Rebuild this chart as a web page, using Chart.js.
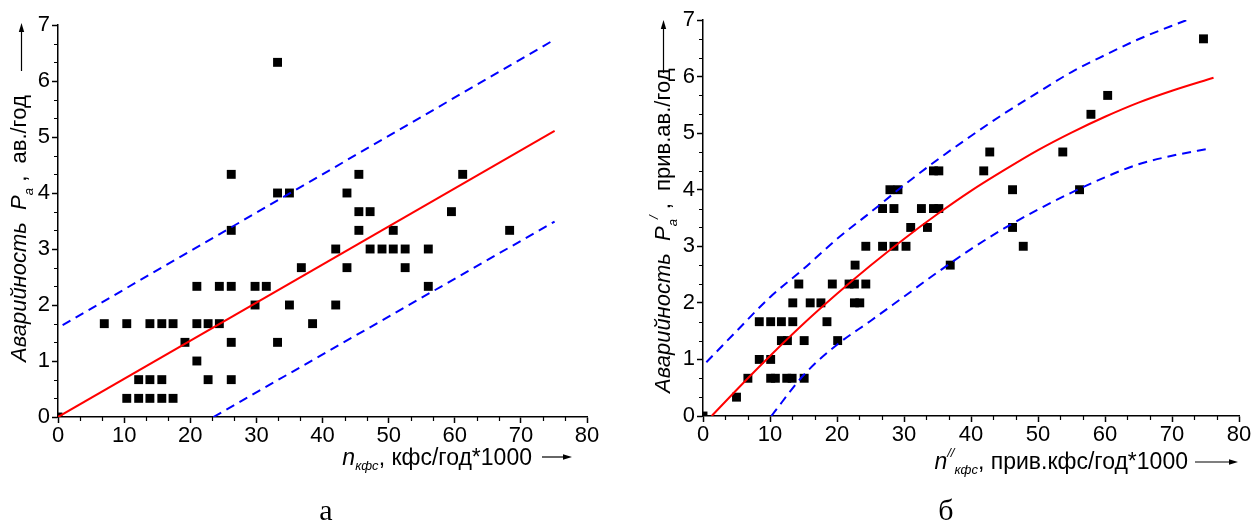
<!DOCTYPE html>
<html>
<head>
<meta charset="utf-8">
<script src="https://cdn.jsdelivr.net/npm/chart.js"></script>
<style>
body { margin:0; background:#fff; }
#pagina { position:relative; width:1252px; height:522px; overflow:hidden; font-family:"Liberation Sans", Arial, sans-serif; color:#000; }
canvas { position:absolute; top:0; }
.titulo { position:absolute; font-size:22px; line-height:22px; white-space:nowrap; }
.horiz { font-size:23px; line-height:23px; }
.vert { transform-origin:0 0; transform:rotate(-90deg); }
sub { font-size:13px; line-height:0; font-style:italic; vertical-align:-7px; }
sup { font-size:13px; line-height:0; font-style:italic; vertical-align:12px; }
.legenda { position:absolute; font-family:"Liberation Serif", "Times New Roman", serif; font-size:30px; line-height:30px; width:60px; text-align:center; }
.seta { position:absolute; }
</style>
</head>
<body>
<div id="pagina">
  <canvas id="grafico_a" width="626" height="522" style="left:0"></canvas>
  <canvas id="grafico_b" width="626" height="522" style="left:626px"></canvas>

  <div class="titulo vert" style="left:8px; top:362px"><i>Аварийность</i>&nbsp;&nbsp;<i>P</i><sub>a</sub>&nbsp;,&nbsp;&nbsp;ав./год</div>
  <svg class="seta" style="left:17px; top:23px" width="9" height="48"><line x1="4.5" y1="6" x2="4.5" y2="48" stroke="#000" stroke-width="1.2"/><polygon points="4.5,0 1.8,9 7.2,9" fill="#000"/></svg>
  <div class="titulo horiz" style="right:720px; top:446px"><i>n</i><sub style="vertical-align:-5px">кфс</sub>, кфс/год*1000</div>
  <svg class="seta" style="left:542px; top:452px" width="30" height="10"><line x1="0" y1="5" x2="24" y2="5" stroke="#000" stroke-width="1.2"/><polygon points="30,5 21,2.3 21,7.7" fill="#000"/></svg>
  <div class="legenda" style="left:296px; top:495px">а</div>

  <div class="titulo vert" style="left:652px; top:393px"><i>Аварийность</i>&nbsp;&nbsp;<i>P</i><sub>a</sub><sup>/</sup>&nbsp;,&nbsp;&nbsp;прив.ав./год</div>
  <svg class="seta" style="left:659px; top:20px" width="9" height="53"><line x1="4.5" y1="6" x2="4.5" y2="53" stroke="#000" stroke-width="1.2"/><polygon points="4.5,0 1.8,9 7.2,9" fill="#000"/></svg>
  <div class="titulo horiz" style="right:64px; top:450px"><i>n</i><sup>//</sup><sub style="vertical-align:-5px">кфс</sub>, прив.кфс/год*1000</div>
  <svg class="seta" style="left:1195px; top:457px" width="43" height="10"><line x1="0" y1="5" x2="37" y2="5" stroke="#000" stroke-width="1.2"/><polygon points="43,5 34,2.3 34,7.7" fill="#000"/></svg>
  <div class="legenda" style="left:916px; top:495px">б</div>
</div>

<script>
// grafico a
const pontos_a_x = [0,
  10.4, 12.2, 13.9, 15.7, 17.4,
  12.2, 13.9, 15.7, 22.7, 26.2,
  21.0,
  19.2, 26.2, 33.2,
  7.0, 10.4, 13.9, 15.7, 17.4, 21.0, 22.7, 24.4, 38.5,
  29.8, 35.0, 42.0,
  21.0, 24.4, 26.2, 29.8, 31.5, 56.0,
  36.8, 43.7, 52.5,
  42.0, 47.2, 49.0, 50.7, 52.5, 56.0,
  26.2, 45.5, 50.7, 68.3,
  45.5, 47.2, 59.5,
  33.2, 35.0, 43.7,
  26.2, 45.5, 61.2,
  33.2]
const pontos_a_y = [0,
  0.333, 0.333, 0.333, 0.333, 0.333,
  0.667, 0.667, 0.667, 0.667, 0.667,
  1.0,
  1.333, 1.333, 1.333,
  1.667, 1.667, 1.667, 1.667, 1.667, 1.667, 1.667, 1.667, 1.667,
  2.0, 2.0, 2.0,
  2.333, 2.333, 2.333, 2.333, 2.333, 2.333,
  2.667, 2.667, 2.667,
  3.0, 3.0, 3.0, 3.0, 3.0, 3.0,
  3.333, 3.333, 3.333, 3.333,
  3.667, 3.667, 3.667,
  4.0, 4.0, 4.0,
  4.333, 4.333, 4.333,
  6.333]

const reta_a_x = [0, 75.1]
const reta_a_y = [0, 5.11]
const sup_a_x = [0.7, 75.1]
const sup_a_y = [1.64, 6.74]
const inf_a_x = [23.5, 75.1]
const inf_a_y = [0, 3.49]

// grafico b
const pontos_b_x = [0, 5.0, 6.7,
  10.1, 10.8, 12.5, 13.3, 15.1,
  8.4, 10.1,
  11.7, 12.6, 15.1, 20.1,
  8.4, 10.1, 11.7, 13.4, 18.5,
  13.4, 16.0, 17.6, 22.6, 23.4,
  14.3, 19.3, 21.8, 22.6, 24.3,
  22.7, 36.9,
  24.3, 26.8, 28.5, 30.3, 47.8,
  31.0, 33.5, 46.2,
  26.8, 28.5, 32.6, 34.4, 35.2,
  27.9, 29.1, 46.2, 56.2,
  34.4, 35.2, 41.9,
  42.8, 53.7,
  57.9, 60.4, 74.7]
const pontos_b_y = [0, 0.333, 0.667,
  0.667, 0.667, 0.667, 0.667, 0.667,
  1.0, 1.0,
  1.333, 1.333, 1.333, 1.333,
  1.667, 1.667, 1.667, 1.667, 1.667,
  2.0, 2.0, 2.0, 2.0, 2.0,
  2.333, 2.333, 2.333, 2.333, 2.333,
  2.667, 2.667,
  3.0, 3.0, 3.0, 3.0, 3.0,
  3.333, 3.333, 3.333,
  3.667, 3.667, 3.667, 3.667, 3.667,
  4.0, 4.0, 4.0, 4.0,
  4.333, 4.333, 4.333,
  4.667, 4.667,
  5.333, 5.667, 6.667]

const curva_b_x = [1.3, 5, 10, 15, 20, 25, 30, 35, 40, 45, 50, 55, 60, 65, 70, 76.2]
const curva_b_y = [0, 0.46, 1.06, 1.63, 2.16, 2.66, 3.13, 3.57, 3.98, 4.35, 4.70, 5.01, 5.29, 5.54, 5.75, 5.98]
const sup_b_x = [0.5, 5, 10, 15, 20, 25, 30, 35, 40, 45, 50, 55, 60, 65, 72.2]
const sup_b_y = [0.95, 1.5, 2.1, 2.6, 3.13, 3.6, 4.08, 4.53, 4.95, 5.35, 5.72, 6.08, 6.38, 6.66, 7.0]
const inf_b_x = [10.2, 15, 20, 25, 30, 35, 40, 45, 50, 55, 60, 65, 70, 75.7]
const inf_b_y = [0, 0.72, 1.26, 1.68, 2.11, 2.54, 2.95, 3.32, 3.65, 3.95, 4.22, 4.45, 4.6, 4.73]

const rotulos_x = [0, 10, 20, 30, 40, 50, 60, 70, 80]
const rotulos_y = [0, 1, 2, 3, 4, 5, 6, 7]

function juntar(xs, ys) {
  return xs.map((v, i) => ({ x: v, y: ys[i] }))
}

const fonte = { family: "'Liberation Sans', Arial, sans-serif", size: 22 }

// tracos menores: dois entre cada rotulo
const tracos_menores = {
  id: 'tracos_menores',
  afterDraw(chart) {
    const ctx = chart.ctx
    const x = chart.scales.x
    const y = chart.scales.y
    ctx.save()
    ctx.strokeStyle = '#000'
    ctx.lineWidth = 1.2
    ctx.beginPath()
    for (let i = 0; i < (rotulos_x.length - 1) * 3; i++) {
      if (i % 3 == 0) continue
      const px = Math.round(x.getPixelForValue(i * 10 / 3)) + 0.5
      ctx.moveTo(px, x.top)
      ctx.lineTo(px, x.top + 4)
    }
    for (let i = 0; i < (rotulos_y.length - 1) * 3; i++) {
      if (i % 3 == 0) continue
      const py = Math.round(y.getPixelForValue(i / 3)) + 0.5
      ctx.moveTo(y.right, py)
      ctx.lineTo(y.right - 4, py)
    }
    ctx.stroke()
    ctx.restore()
  }
}

function eixo(rotulos, largura, altura) {
  return {
    type: 'linear',
    min: rotulos[0],
    max: rotulos[rotulos.length - 1],
    afterFit: (scale) => {
      if (largura) scale.width = largura
      if (altura) scale.height = altura
    },
    afterBuildTicks: (scale) => {
      scale.ticks = rotulos.map(v => ({ value: v }))
    },
    grid: {
      drawOnChartArea: false,
      drawTicks: true,
      tickLength: 6,
      tickColor: '#000',
      tickWidth: 1.5,
      color: '#000'
    },
    border: { display: true, color: '#000', width: 1.5 },
    ticks: {
      color: '#000',
      font: fonte,
      padding: altura ? 0 : 2,
      autoSkip: false,
      maxRotation: 0,
      callback: (v) => v
    }
  }
}

function plotar(canvas, conjuntos, area) {
  return new Chart(canvas, {
    type: 'scatter',
    data: { datasets: conjuntos },
    options: {
      responsive: false,
      animation: false,
      events: [],
      layout: { padding: { left: 0, top: area.top, right: area.right, bottom: 0 } },
      scales: {
        x: eixo(rotulos_x, 0, area.baixo),
        y: eixo(rotulos_y, area.esq, 0)
      },
      plugins: {
        legend: { display: false },
        tooltip: { enabled: false }
      }
    },
    plugins: [tracos_menores]
  })
}

function linha(dados, cor, tracejado, curva) {
  return {
    data: dados,
    showLine: true,
    borderColor: cor,
    borderWidth: 2,
    borderDash: tracejado ? [9, 6] : [],
    pointRadius: 0,
    cubicInterpolationMode: curva ? 'monotone' : 'default',
    tension: curva ? 0.4 : 0
  }
}

function pontos(dados) {
  return {
    data: dados,
    showLine: false,
    pointStyle: 'rect',
    pointRadius: 6.3,
    backgroundColor: '#000',
    borderColor: '#000',
    borderWidth: 0
  }
}

plotar(document.getElementById('grafico_a'), [
  linha(juntar(reta_a_x, reta_a_y), '#ff0000', false, false),
  linha(juntar(sup_a_x, sup_a_y), '#0000ff', true, false),
  linha(juntar(inf_a_x, inf_a_y), '#0000ff', true, false),
  pontos(juntar(pontos_a_x, pontos_a_y))
], { top: 25, right: 39, baixo: 105, esq: 58 })

plotar(document.getElementById('grafico_b'), [
  linha(juntar(curva_b_x, curva_b_y), '#ff0000', false, true),
  linha(juntar(sup_b_x, sup_b_y), '#0000ff', true, true),
  linha(juntar(inf_b_x, inf_b_y), '#0000ff', true, true),
  pontos(juntar(pontos_b_x, pontos_b_y))
], { top: 20, right: 13, baixo: 106, esq: 77 })
</script>
</body>
</html>
